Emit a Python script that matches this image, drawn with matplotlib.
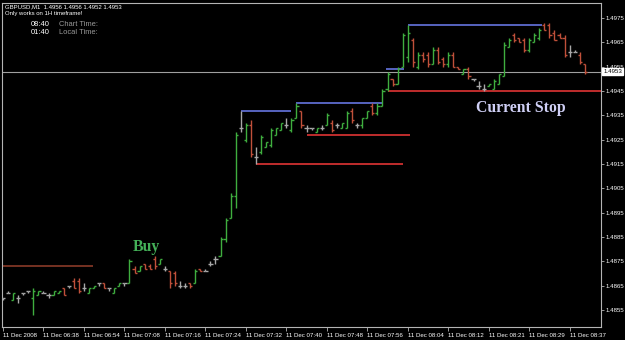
import numpy as np
import matplotlib.pyplot as plt

# GBPUSD M1 bars, 11 Dec 2008
opens = [1.4860, 1.4862, 1.4859, 1.4860, 1.4862, 1.4863, 1.4860, 1.4861, 1.4862, 1.4861,
         1.4861, 1.4862, 1.4864, 1.4865, 1.4867, 1.4867, 1.4864, 1.4862, 1.4864, 1.4866,
         1.4866, 1.4864, 1.4862, 1.4865, 1.4866, 1.4866, 1.4872, 1.4871, 1.4874, 1.4873,
         1.4876, 1.4874, 1.4872, 1.4871, 1.4870, 1.4865, 1.4865, 1.4866, 1.4866, 1.4872,
         1.4871, 1.4874, 1.4876, 1.4877, 1.4884, 1.4893, 1.4902, 1.4930, 1.4925, 1.4931,
         1.4918, 1.4920, 1.4922, 1.4923, 1.4927, 1.4929, 1.4931, 1.4929, 1.4934, 1.4937,
         1.4930, 1.4930, 1.4928, 1.4930, 1.4931, 1.4932, 1.4931, 1.4930, 1.4930, 1.4937,
         1.4931, 1.4931, 1.4934, 1.4939, 1.4936, 1.4939, 1.4946, 1.4950, 1.4948, 1.4955,
         1.4959, 1.4966, 1.4955, 1.4960, 1.4960, 1.4956, 1.4962, 1.4958, 1.4956, 1.4960,
         1.4955, 1.4952, 1.4954, 1.4950, 1.4947, 1.4946, 1.4947, 1.4946, 1.4948, 1.4951,
         1.4963, 1.4968, 1.4967, 1.4966, 1.4962, 1.4965, 1.4967, 1.4972, 1.4972, 1.4969,
         1.4968, 1.4967, 1.4961, 1.4961, 1.4960, 1.4956]
highs = [1.4860, 1.4863, 1.4862, 1.4861, 1.4862, 1.4863, 1.4864, 1.4863, 1.4863, 1.4862,
         1.4863, 1.4863, 1.4864, 1.4865, 1.4868, 1.4868, 1.4866, 1.4864, 1.4865, 1.4866,
         1.4866, 1.4864, 1.4864, 1.4866, 1.4866, 1.4876, 1.4873, 1.4873, 1.4874, 1.4874,
         1.4877, 1.4876, 1.4873, 1.4871, 1.4871, 1.4867, 1.4866, 1.4866, 1.4872, 1.4872,
         1.4872, 1.4875, 1.4877, 1.4885, 1.4893, 1.4903, 1.4928, 1.4937, 1.4932, 1.4933,
         1.4922, 1.4927, 1.4924, 1.4930, 1.4930, 1.4932, 1.4934, 1.4934, 1.4940, 1.4937,
         1.4931, 1.4930, 1.4930, 1.4931, 1.4936, 1.4933, 1.4932, 1.4932, 1.4937, 1.4938,
         1.4932, 1.4934, 1.4937, 1.4940, 1.4940, 1.4946, 1.4953, 1.4950, 1.4955, 1.4969,
         1.4972, 1.4967, 1.4961, 1.4961, 1.4961, 1.4963, 1.4963, 1.4959, 1.4961, 1.4961,
         1.4955, 1.4954, 1.4955, 1.4950, 1.4949, 1.4948, 1.4948, 1.4950, 1.4952, 1.4965,
         1.4967, 1.4969, 1.4967, 1.4967, 1.4967, 1.4969, 1.4971, 1.4973, 1.4973, 1.4970,
         1.4969, 1.4968, 1.4964, 1.4962, 1.4961, 1.4956]
lows = [1.4859, 1.4862, 1.4859, 1.4858, 1.4861, 1.4862, 1.4853, 1.4861, 1.4862, 1.4860,
        1.4861, 1.4862, 1.4861, 1.4864, 1.4864, 1.4862, 1.4863, 1.4862, 1.4864, 1.4865,
        1.4864, 1.4863, 1.4862, 1.4865, 1.4865, 1.4866, 1.4870, 1.4871, 1.4872, 1.4872,
        1.4872, 1.4874, 1.4871, 1.4864, 1.4865, 1.4864, 1.4864, 1.4864, 1.4866, 1.4871,
        1.4871, 1.4873, 1.4874, 1.4877, 1.4883, 1.4893, 1.4897, 1.4928, 1.4924, 1.4918,
        1.4915, 1.4919, 1.4922, 1.4922, 1.4927, 1.4929, 1.4930, 1.4928, 1.4934, 1.4930,
        1.4928, 1.4929, 1.4928, 1.4929, 1.4931, 1.4928, 1.4930, 1.4930, 1.4930, 1.4932,
        1.4930, 1.4930, 1.4934, 1.4935, 1.4935, 1.4939, 1.4945, 1.4947, 1.4948, 1.4955,
        1.4957, 1.4955, 1.4954, 1.4957, 1.4955, 1.4956, 1.4956, 1.4955, 1.4955, 1.4955,
        1.4954, 1.4952, 1.4950, 1.4949, 1.4946, 1.4945, 1.4947, 1.4946, 1.4948, 1.4951,
        1.4963, 1.4965, 1.4965, 1.4961, 1.4961, 1.4965, 1.4966, 1.4970, 1.4967, 1.4966,
        1.4967, 1.4959, 1.4959, 1.4961, 1.4956, 1.4952]
closes = [1.4860, 1.4862, 1.4862, 1.4860, 1.4862, 1.4863, 1.4863, 1.4863, 1.4862, 1.4861,
          1.4863, 1.4863, 1.4861, 1.4865, 1.4864, 1.4863, 1.4864, 1.4864, 1.4865, 1.4866,
          1.4864, 1.4864, 1.4864, 1.4866, 1.4866, 1.4875, 1.4870, 1.4873, 1.4872, 1.4872,
          1.4873, 1.4876, 1.4872, 1.4866, 1.4866, 1.4865, 1.4865, 1.4865, 1.4871, 1.4871,
          1.4871, 1.4874, 1.4876, 1.4884, 1.4892, 1.4902, 1.4927, 1.4930, 1.4931, 1.4919,
          1.4918, 1.4926, 1.4924, 1.4929, 1.4930, 1.4932, 1.4931, 1.4933, 1.4939, 1.4931,
          1.4930, 1.4930, 1.4930, 1.4930, 1.4935, 1.4929, 1.4931, 1.4932, 1.4936, 1.4933,
          1.4931, 1.4934, 1.4937, 1.4936, 1.4939, 1.4945, 1.4952, 1.4948, 1.4954, 1.4968,
          1.4969, 1.4957, 1.4960, 1.4958, 1.4956, 1.4962, 1.4957, 1.4956, 1.4960, 1.4955,
          1.4954, 1.4954, 1.4951, 1.4950, 1.4947, 1.4946, 1.4948, 1.4949, 1.4952, 1.4964,
          1.4966, 1.4966, 1.4965, 1.4962, 1.4966, 1.4968, 1.4970, 1.4970, 1.4968, 1.4966,
          1.4967, 1.4960, 1.4961, 1.4961, 1.4957, 1.4953]

time_labels = ['11 Dec 2008', '11 Dec 06:38', '11 Dec 06:54', '11 Dec 07:08', '11 Dec 07:16',
               '11 Dec 07:24', '11 Dec 07:32', '11 Dec 07:40', '11 Dec 07:48', '11 Dec 07:56',
               '11 Dec 08:04', '11 Dec 08:12', '11 Dec 08:21', '11 Dec 08:29', '11 Dec 08:37']
price_ticks = [1.4855, 1.4865, 1.4875, 1.4885, 1.4895, 1.4905, 1.4915,
               1.4925, 1.4935, 1.4945, 1.4955, 1.4965, 1.4975]

# indicator levels: (start bar, end bar, price)
entry_level = (0, 17.8, 1.4873)
high_start = [47, 58, 75.8, 80]
high_end = [57, 75, 79.3, 106.5]
high_price = [1.4937, 1.4940, 1.4954, 1.4972]
stop_start = [50, 60, 76]
stop_end = [79, 80.5, 118.2]
stop_price = [1.4915, 1.4927, 1.4945]
last_price = 1.4953

UP, DOWN, FLAT = '#3fae3f', '#c0503a', '#a8a8a8'

fig = plt.figure(figsize=(6.25, 3.40), dpi=100, facecolor='black')
ax = fig.add_axes([2/625, 13/340, 599/625, 324/340], facecolor='black')

o = np.array(opens); h = np.array(highs); l = np.array(lows); c = np.array(closes)
idx = np.arange(len(o))
cols = [UP if cc > oo else DOWN if cc < oo else FLAT for oo, cc in zip(o, c)]

ax.axhline(last_price, color='#a0a0a0', lw=0.8, zorder=1)
ax.vlines(idx, l, h, colors=cols, lw=1.0, zorder=3)
ax.hlines(o, idx - 0.42, idx, colors=cols, lw=1.0, zorder=3)
ax.hlines(c, idx, idx + 0.42, colors=cols, lw=1.0, zorder=3)

ax.hlines(entry_level[2], entry_level[0], entry_level[1], colors='#8a3a28', lw=1.2, zorder=2)
ax.hlines(high_price, high_start, high_end, colors='#6675e0', lw=1.2, zorder=2)
ax.hlines(stop_price, stop_start, stop_end, colors='#e03434', lw=1.2, zorder=2)

ax.text(28.3, 1.4881, 'Buy', color='#44b058', fontsize=11.3, fontweight='bold',
        family='Liberation Serif', ha='center', va='center')
ax.text(102.4, 1.4938, 'Current Stop', color='#cfcff5', fontsize=11.3, fontweight='bold',
        family='Liberation Serif', ha='center', va='center')

ax.set_xlim(-0.2, 118.2)
ax.set_ylim(1.48480, 1.49812)

ax.yaxis.tick_right()
ax.set_yticks(price_ticks)
ax.set_yticklabels(['%.4f' % p for p in price_ticks])
ax.set_xticks(idx[::8][:len(time_labels)])
ax.set_xticklabels(time_labels)
plt.setp(ax.get_xticklabels(), ha='left')
ax.tick_params(axis='both', colors='#b4b4b4', labelcolor='white', labelsize=4.4,
               width=0.6, direction='out')
ax.tick_params(axis='y', pad=1, length=2)
ax.tick_params(axis='x', pad=1.5, length=3)
for lab in ax.get_xticklabels() + ax.get_yticklabels():
    lab.set_family('Liberation Sans')
for s in ax.spines.values():
    s.set_color('#b4b4b4')
    s.set_linewidth(0.8)

ax.annotate('%.4f' % last_price, xy=(1.0, last_price), xycoords=('axes fraction', 'data'),
            xytext=(1.5, 0), textcoords='offset points', ha='left', va='center',
            fontsize=4.4, family='Liberation Sans', color='black',
            bbox=dict(boxstyle='square,pad=0.12', fc='white', ec='white'), annotation_clip=False)

# header text in the corner
fig.text(5/625, 1 - 7/340, 'GBPUSD,M1  1.4956 1.4956 1.4952 1.4953', color='white',
         fontsize=4.3, family='Liberation Sans', va='center')
fig.text(5/625, 1 - 14/340, 'Only works on 1H timeframe!', color='white',
         fontsize=4.3, family='Liberation Sans', va='center')
fig.text(50/625, 1 - 25/340, '08:40', color='white', fontsize=5.4, family='Liberation Sans',
         va='center', ha='right')
fig.text(59/625, 1 - 25/340, 'Chart Time:', color='#9a9a9a', fontsize=5.4,
         family='Liberation Sans', va='center')
fig.text(50/625, 1 - 33/340, '01:40', color='white', fontsize=5.4, family='Liberation Sans',
         va='center', ha='right')
fig.text(59/625, 1 - 33/340, 'Local Time:', color='#9a9a9a', fontsize=5.4,
         family='Liberation Sans', va='center')

fig.savefig('out.png', dpi=100, facecolor='black')
